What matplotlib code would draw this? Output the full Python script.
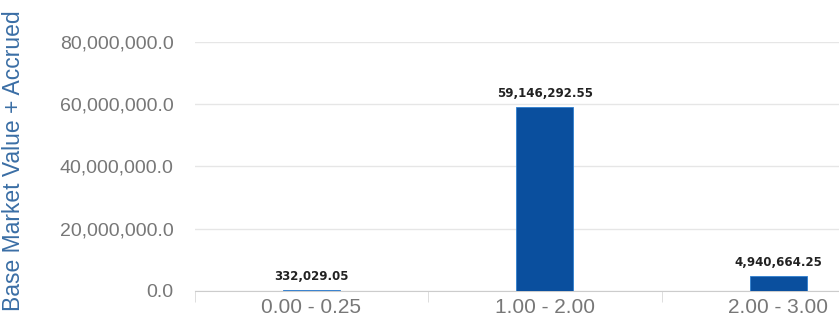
import matplotlib
matplotlib.use("Agg")
import matplotlib.pyplot as plt
from matplotlib.ticker import FuncFormatter, FixedLocator

categories = ["0.00 - 0.25", "1.00 - 2.00", "2.00 - 3.00"]
values = [332029.05, 59146292.55, 4940664.25]
yticks = [0, 20000000, 40000000, 60000000, 80000000]

plt.rcParams['font.family'] = ['Liberation Sans', 'DejaVu Sans']

fig = plt.figure(figsize=(8.39, 3.25), dpi=100)
ax = fig.add_axes([0.232, 0.105, 0.768, 0.766])

x = list(range(len(categories)))
ax.bar(x, values, width=0.245, color="#0a4f9e", edgecolor="#2f7fd0", linewidth=0.6, zorder=3)

for xi, v in zip(x, values):
    ax.annotate(f"{v:,.2f}", (xi, v), xytext=(0, 5), textcoords="offset points",
                ha="center", va="bottom", fontsize=8.5, fontweight="bold", color="#222222",
                family="DejaVu Sans", zorder=4)

ax.set_ylim(0, 80000000)
ax.set_xlim(-0.5, 2.26)
ax.yaxis.set_major_locator(FixedLocator(yticks))
ax.yaxis.set_major_formatter(FuncFormatter(lambda v, p: f"{v:,.1f}"))
ax.grid(axis="y", color="#e6e6e6", linewidth=1, zorder=0)
ax.set_xticks(x)
ax.set_xticklabels(categories)
ax.set_xticks([-0.5, 0.5, 1.5], minor=True)
ax.tick_params(axis="x", which="major", length=0, labelsize=15, labelcolor="#777777", pad=5)
ax.tick_params(axis="x", which="minor", length=8, color="#d8d8d8", direction="out")
ax.tick_params(axis="y", length=0, labelsize=14, labelcolor="#777777", pad=15)
for s in ["top", "right", "left"]:
    ax.spines[s].set_visible(False)
ax.spines["bottom"].set_color("#cccccc")

fig.text(0.016, 0.505, "Base Market Value + Accrued", rotation=90, ha="center", va="center",
         fontsize=16.5, color="#3a6ea5")

fig.savefig("out.png", dpi=100)
